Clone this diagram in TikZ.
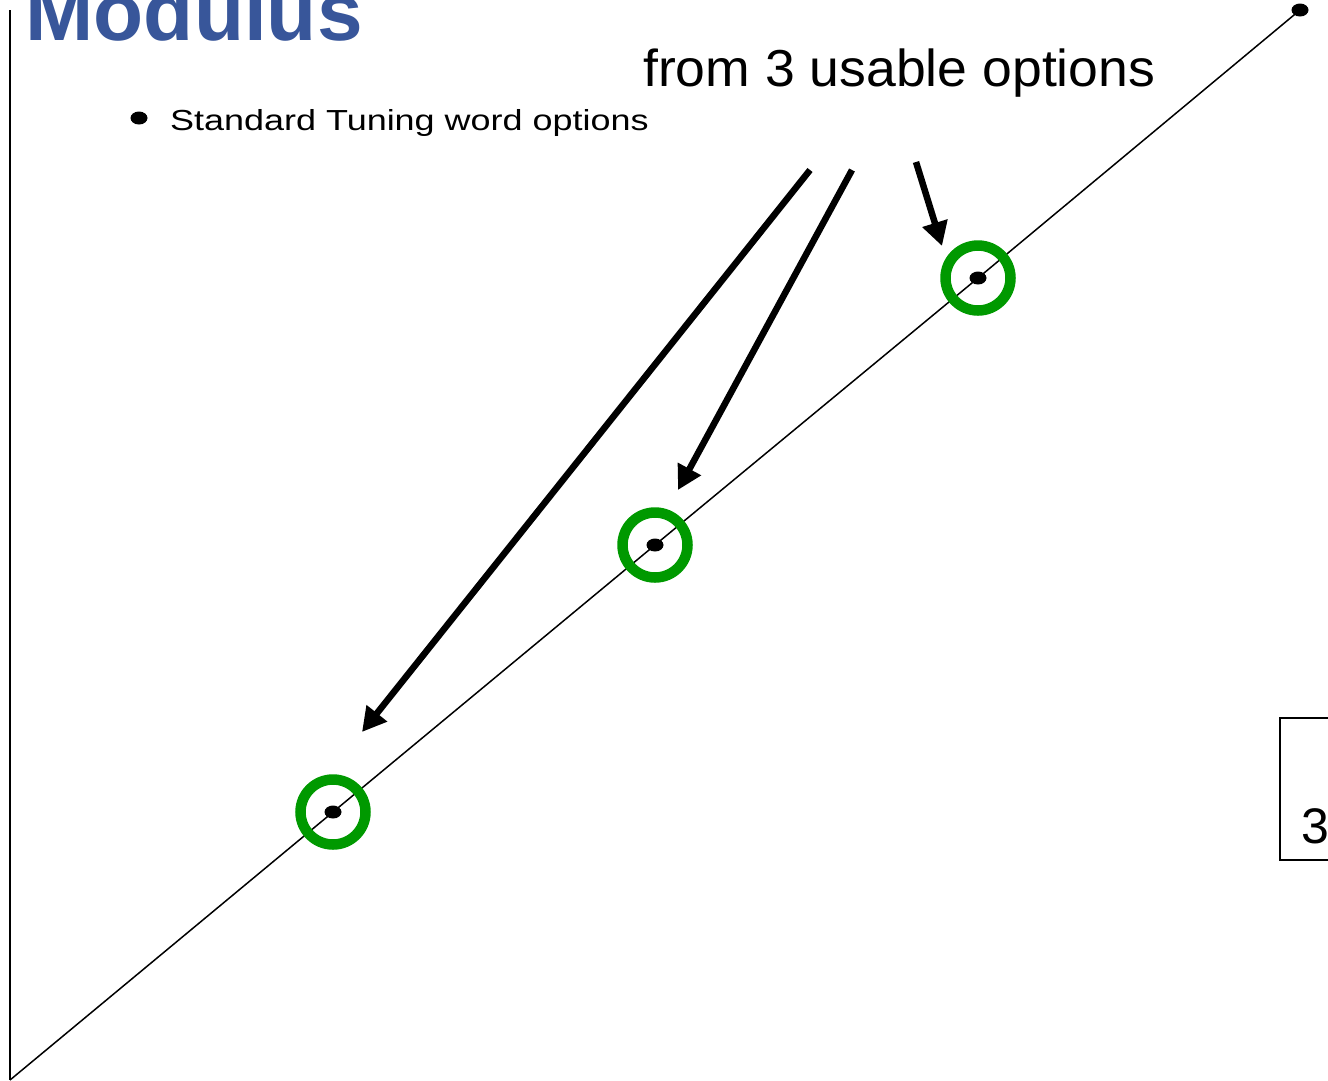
\documentclass[tikz,border=0pt]{standalone}
\usepackage{fontspec}
\setmainfont{Liberation Sans}
\usetikzlibrary{arrows.meta}
\usetikzlibrary{shapes.geometric}

\definecolor{titleblue}{RGB}{56,86,154}
\definecolor{ringgreen}{RGB}{0,153,0}

\tikzset{
  tuneword/.style={ellipse, fill=black, inner sep=0pt, minimum width=17pt, minimum height=13pt},
  usable/.style={circle, draw=ringgreen, line width=10.5pt, minimum size=65pt, inner sep=0pt},
  pointer/.style={line width=6.5pt, -{Triangle[length=24pt,width=25pt]}}
}

\begin{document}
\begin{tikzpicture}[x=1pt, y=-1pt]
\useasboundingbox (0,0) rectangle (1328,1080);

% axes and the line of tuning words
\coordinate (O) at (10,1080);
\coordinate (Top) at (10,10);
\draw[line width=2pt] (O) -- (Top);

\node[tuneword] (w1) at (333,812) {};
\node[tuneword] (w2) at (655,545) {};
\node[tuneword] (w3) at (978,278) {};
\node[tuneword] (w4) at (1300,10) {};
\draw[line width=1.5pt] (O) -- (w1.center) -- (w2.center) -- (w3.center) -- (w4.center);

\node[usable] (r1) at (w1) {};
\node[usable] (r2) at (w2) {};
\node[usable] (r3) at (w3) {};

% labels
\node[anchor=base west, text=titleblue, font=\bfseries\fontsize{82}{82}\selectfont] (title) at (22,40) {Modulus};
\node[tuneword] (bul) at (139,118) {};
\node[anchor=base west, inner sep=0pt, font=\fontsize{29}{29}\selectfont] (std) at (170,130) {\scalebox{1.24}[1]{Standard Tuning word options}};
\node[anchor=base west, inner sep=0pt, font=\fontsize{52}{52}\selectfont] (from) at (643,86) {\scalebox{1.03}[1]{from 3 usable options}};

% pointers to the usable words
\coordinate (s1) at (810,170);
\coordinate (s2) at (852,170);
\coordinate (s3) at (916,162);
\coordinate (t1) at (362,732);
\coordinate (t2) at (678,490);
\coordinate (t3) at (942,246);
\draw[pointer] (s1) -- (t1);
\draw[pointer] (s2) -- (t2);
\draw[pointer] (s3) -- (t3);

% box cut at the right edge
\draw[line width=2pt] (1340,718) -- (1280,718) -- (1280,860) -- (1340,860);
\node[anchor=base west, font=\fontsize{50}{50}\selectfont] (three) at (1298,843) {3};
\end{tikzpicture}
\end{document}
